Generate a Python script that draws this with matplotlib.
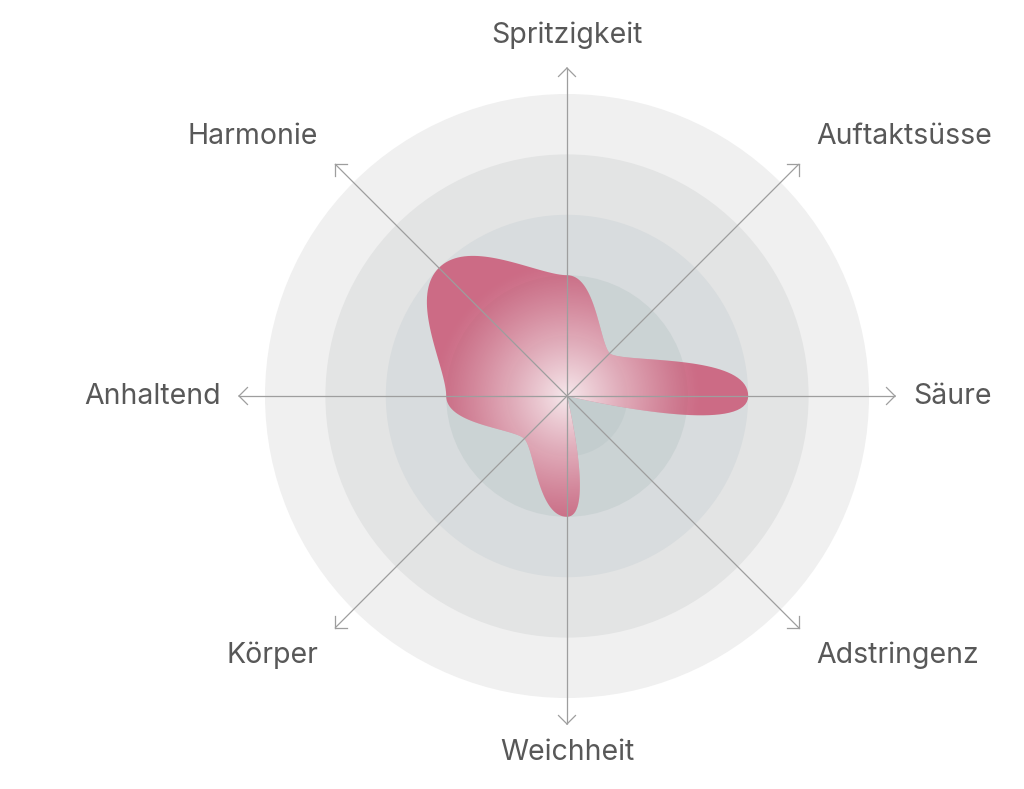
import numpy as np
import matplotlib.pyplot as plt
from matplotlib.patches import Circle, Polygon

labels = ['Spritzigkeit', 'Auftaktsüsse', 'Säure', 'Adstringenz',
          'Weichheit', 'Körper', 'Anhaltend', 'Harmonie']
values = [2, 1, 3, 0, 2, 1, 2, 3]
max_value = 5
ring_colors = ['#f0f0f0', '#e3e4e4', '#d8dcde', '#cbd3d4', '#c3cdce']

W, H = 1024, 789
cx, cy = 567, 396      # centre in pixels
R = 302                # outer ring radius
axis_len = 328
glow_r = 135
k_round = 0.24         # how round the blob is


def round_blob(r, ang, k=0.24, n=40):
    # cubic pieces, tangent at each point runs along the circle through it
    px, py = cx + r * np.sin(ang), cy - r * np.cos(ang)
    tx, ty = np.cos(ang), np.sin(ang)
    out = []
    m = len(r)
    for i in range(m):
        j = (i + 1) % m
        p1 = np.array([px[i], py[i]])
        p2 = np.array([px[j], py[j]])
        c1 = p1 + k * r[i] * np.array([tx[i], ty[i]])
        c2 = p2 - k * r[j] * np.array([tx[j], ty[j]])
        t = np.linspace(0, 1, n, endpoint=False)[:, None]
        out.append((1 - t) ** 3 * p1 + 3 * (1 - t) ** 2 * t * c1
                   + 3 * (1 - t) * t ** 2 * c2 + t ** 3 * p2)
    return np.vstack(out)


fig = plt.figure(figsize=(W / 100, H / 100), dpi=100)
ax = fig.add_axes([0, 0, 1, 1])

# background rings, largest first
for i, col in enumerate(ring_colors):
    r = R * (max_value - i) / max_value
    ax.add_patch(Circle((cx, cy), r, facecolor=col, edgecolor='none', zorder=1))

n = len(labels)
ang = np.arange(n) * 2 * np.pi / n          # 0 = up, clockwise
dx, dy = np.sin(ang), -np.cos(ang)

# blob
rr = np.array(values) / max_value * R
curve = round_blob(rr, ang, k_round)
blob = Polygon(curve, closed=True, facecolor=(200/255, 60/255, 95/255),
               alpha=0.7, edgecolor='none', zorder=2)
ax.add_patch(blob)

# white glow in the middle of the blob only
gx = np.linspace(-1, 1, 301)
GX, GY = np.meshgrid(gx, gx)
d = np.sqrt(GX ** 2 + GY ** 2)
img = np.ones((301, 301, 4))
img[..., 3] = 0.85 * np.clip(1 - d, 0, 1) ** 1.2
glow = ax.imshow(img, extent=(cx - glow_r, cx + glow_r, cy + glow_r, cy - glow_r),
                 zorder=3, interpolation='bilinear')
glow.set_clip_path(blob)

# axes with open arrow heads
line_col = '#9e9e9e'
for i in range(n):
    ex, ey = cx + axis_len * dx[i], cy + axis_len * dy[i]
    ax.plot([cx, ex], [cy, ey], color=line_col, lw=0.9, zorder=4,
            solid_capstyle='butt')
    for s in (-1, 1):
        a2 = ang[i] + np.pi + s * np.radians(45)
        ax.plot([ex, ex + 12 * np.sin(a2)], [ey, ey - 12 * np.cos(a2)],
                color=line_col, lw=0.9, zorder=4)

# labels
for i, lab in enumerate(labels):
    if abs(dy[i]) < 0.1:          # left / right
        x, y = cx + 346 * dx[i], cy
    elif abs(dx[i]) < 0.1:        # top / bottom
        x, y = cx, cy + (361 if dy[i] < 0 else 357) * dy[i]
    else:
        x, y = cx + 352 * dx[i], cy + 367 * dy[i]
    if dx[i] > 0.1:
        ha = 'left'
    elif dx[i] < -0.1:
        ha = 'right'
    else:
        ha = 'center'
    ax.text(x, y, lab, ha=ha, va='center', fontsize=20.5, color='#585858',
            family=['Inter', 'DejaVu Sans'], zorder=5)

ax.set_xlim(0, W)
ax.set_ylim(H, 0)
ax.axis('off')

fig.savefig('out.png', dpi=100)
